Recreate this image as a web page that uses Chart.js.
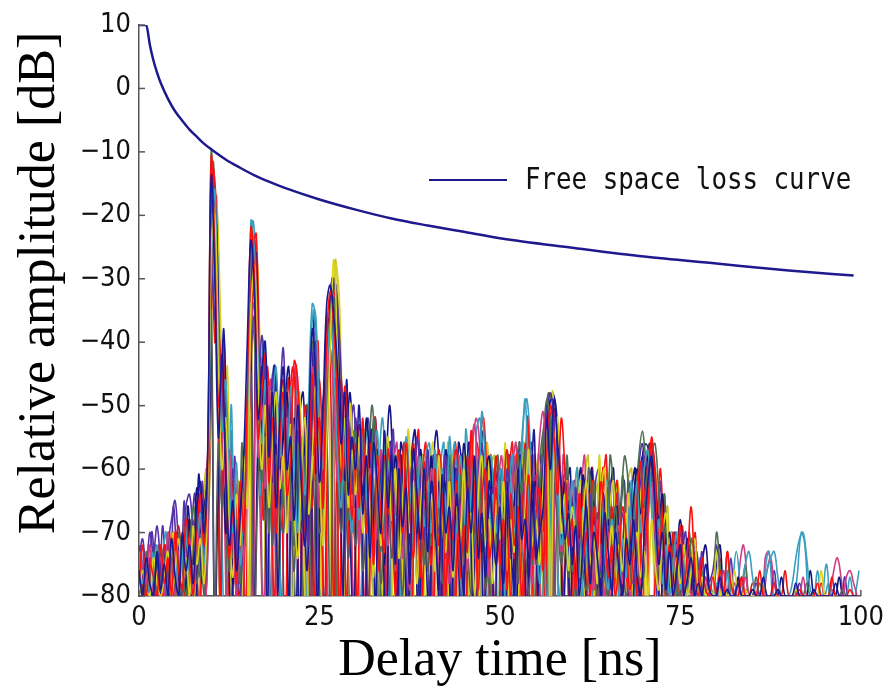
<!DOCTYPE html>
<html><head><meta charset="utf-8">
<script src="https://cdn.jsdelivr.net/npm/chart.js@4.4.1/dist/chart.umd.min.js"></script>
<style>html,body{margin:0;padding:0;background:#fff;}#wrap{position:relative;width:890px;height:695px;}</style>
</head><body><div id="wrap"><canvas id="c" width="890" height="695"></canvas></div>
<script>
// Delay axes (ns) for the measured power-delay profiles (two sampling grids)
const delay = [
0,0.5,1,1.5,2,2.5,3,3.5,4,4.5,5,5.5,6,6.5,7,7.5,8,8.5,9,9.5,
10,10.5,11,11.5,12,12.5,13,13.5,14,14.5,15,15.5,16,16.5,17,17.5,18,18.5,19,19.5,
20,20.5,21,21.5,22,22.5,23,23.5,24,24.5,25,25.5,26,26.5,27,27.5,28,28.5,29,29.5,
30,30.5,31,31.5,32,32.5,33,33.5,34,34.5,35,35.5,36,36.5,37,37.5,38,38.5,39,39.5,
40,40.5,41,41.5,42,42.5,43,43.5,44,44.5,45,45.5,46,46.5,47,47.5,48,48.5,49,49.5,
50,50.5,51,51.5,52,52.5,53,53.5,54,54.5,55,55.5,56,56.5,57,57.5,58,58.5,59,59.5,
60,60.5,61,61.5,62,62.5,63,63.5,64,64.5,65,65.5,66,66.5,67,67.5,68,68.5,69,69.5,
70,70.5,71,71.5,72,72.5,73,73.5,74,74.5,75,75.5,76,76.5,77,77.5,78,78.5,79,79.5,
80,80.5,81,81.5,82,82.5,83,83.5,84,84.5,85,85.5,86,86.5,87,87.5,88,88.5,89,89.5,
90,90.5,91,91.5,92,92.5,93,93.5,94,94.5,95,95.5,96,96.5,97,97.5,98,98.5,99,99.5];
const delayB = [
0.25,0.75,1.25,1.75,2.25,2.75,3.25,3.75,4.25,4.75,5.25,5.75,6.25,6.75,7.25,7.75,8.25,8.75,9.25,9.75,
10.25,10.75,11.25,11.75,12.25,12.75,13.25,13.75,14.25,14.75,15.25,15.75,16.25,16.75,17.25,17.75,18.25,18.75,19.25,19.75,
20.25,20.75,21.25,21.75,22.25,22.75,23.25,23.75,24.25,24.75,25.25,25.75,26.25,26.75,27.25,27.75,28.25,28.75,29.25,29.75,
30.25,30.75,31.25,31.75,32.25,32.75,33.25,33.75,34.25,34.75,35.25,35.75,36.25,36.75,37.25,37.75,38.25,38.75,39.25,39.75,
40.25,40.75,41.25,41.75,42.25,42.75,43.25,43.75,44.25,44.75,45.25,45.75,46.25,46.75,47.25,47.75,48.25,48.75,49.25,49.75,
50.25,50.75,51.25,51.75,52.25,52.75,53.25,53.75,54.25,54.75,55.25,55.75,56.25,56.75,57.25,57.75,58.25,58.75,59.25,59.75,
60.25,60.75,61.25,61.75,62.25,62.75,63.25,63.75,64.25,64.75,65.25,65.75,66.25,66.75,67.25,67.75,68.25,68.75,69.25,69.75,
70.25,70.75,71.25,71.75,72.25,72.75,73.25,73.75,74.25,74.75,75.25,75.75,76.25,76.75,77.25,77.75,78.25,78.75,79.25,79.75,
80.25,80.75,81.25,81.75,82.25,82.75,83.25,83.75,84.25,84.75,85.25,85.75,86.25,86.75,87.25,87.75,88.25,88.75,89.25,89.75,
90.25,90.75,91.25,91.75,92.25,92.75,93.25,93.75,94.25,94.75,95.25,95.75,96.25,96.75,97.25,97.75,98.25,98.75,99.25,99.75];

const mp1 = [
-76,-80,-74,-78,-80,-73,-79,-75,-80,-71,-77,-80,-70,-76,-72,-78,-66,-62,-70,-58,
-14,-30,-55,-42,-60,-72,-65,-76,-68,-58,-40,-24,-33,-52,-45,-40,-58,-48,-66,-52,
-44,-60,-55,-68,-50,-63,-72,-55,-38,-46,-62,-50,-34,-31,-36,-44,-56,-48,-64,-55,
-60,-50,-67,-58,-74,-56,-62,-70,-54,-66,-58,-75,-60,-69,-63,-78,-57,-64,-71,-60,
-73,-62,-68,-79,-61,-70,-66,-76,-64,-72,-80,-63,-70,-58,-74,-67,-77,-62,-69,-75,
-66,-78,-64,-72,-80,-60,-71,-68,-77,-62,-74,-70,-66,-52,-60,-49,-56,-63,-71,-67,
-75,-69,-80,-72,-66,-78,-70,-74,-80,-67,-73,-79,-70,-76,-80,-71,-75,-68,-77,-80,
-70,-62,-58,-66,-75,-70,-79,-73,-80,-76,-72,-80,-77,-74,-80,-78,-80,-75,-79,-80,
-80,-77,-80,-79,-80,-80,-78,-80,-80,-80,-79,-80,-80,-77,-80,-80,-80,-79,-80,-80,
-80,-80,-78,-80,-80,-80,-80,-79,-80,-80,-80,-80,-80,-78,-80,-80,-80,-80,-80,-80];
const mp2 = [
-78,-72,-80,-75,-77,-80,-72,-78,-74,-80,-70,-76,-79,-68,-74,-80,-70,-64,-72,-60,
-11,-26,-50,-45,-58,-74,-66,-78,-62,-70,-48,-22,-30,-55,-48,-42,-62,-52,-70,-56,
-48,-64,-58,-43,-46,-60,-70,-60,-45,-56,-52,-66,-40,-32,-38,-50,-62,-47,-56,-68,
-56,-66,-52,-70,-61,-75,-58,-67,-73,-57,-64,-80,-62,-70,-56,-66,-74,-63,-77,-59,
-68,-75,-60,-72,-64,-80,-67,-71,-62,-77,-69,-73,-54,-66,-79,-65,-60,-74,-70,-63,
-75,-68,-79,-64,-72,-66,-80,-70,-61,-74,-67,-63,-76,-58,-50,-55,-64,-52,-60,-72,
-68,-79,-64,-74,-70,-80,-66,-73,-62,-69,-77,-72,-80,-74,-66,-71,-79,-73,-65,-59,
-72,-66,-55,-62,-74,-68,-78,-72,-80,-75,-69,-78,-73,-66,-76,-80,-74,-79,-80,-77,
-80,-76,-80,-73,-78,-80,-80,-77,-80,-80,-79,-80,-76,-80,-80,-80,-78,-80,-80,-80,
-80,-80,-80,-79,-80,-80,-80,-80,-78,-80,-80,-80,-77,-80,-80,-80,-80,-79,-80,-80];
const mp3 = [
-80,-76,-79,-80,-74,-78,-80,-77,-73,-80,-76,-71,-78,-74,-80,-69,-75,-71,-78,-64,
-25,-20,-44,-60,-52,-68,-77,-64,-72,-58,-66,-35,-28,-46,-60,-50,-66,-55,-48,-63,
-58,-70,-53,-66,-74,-60,-52,-67,-58,-47,-60,-72,-56,-40,-27,-42,-60,-52,-66,-57,
-64,-55,-70,-60,-66,-77,-58,-72,-63,-55,-68,-60,-74,-65,-57,-70,-62,-78,-66,-60,
-70,-64,-76,-58,-68,-73,-62,-77,-66,-71,-60,-74,-67,-80,-64,-58,-72,-68,-78,-65,
-71,-62,-76,-68,-73,-60,-79,-66,-57,-72,-68,-75,-62,-54,-84,-58,-52,-70,-64,-76,
-66,-73,-80,-68,-62,-75,-70,-78,-64,-60,-74,-69,-80,-72,-76,-67,-79,-74,-70,-77,
-73,-80,-68,-75,-79,-71,-67,-76,-80,-74,-78,-72,-80,-76,-71,-80,-77,-80,-79,-80,
-73,-80,-78,-80,-80,-76,-80,-80,-79,-80,-80,-80,-80,-78,-80,-80,-80,-80,-80,-80,
-80,-80,-79,-80,-80,-80,-80,-80,-80,-76,-80,-80,-80,-80,-80,-80,-80,-80,-80,-80];
const mp4 = [
-73,-78,-74,-80,-76,-72,-79,-75,-80,-77,-73,-80,-74,-69,-77,-80,-72,-67,-75,-63,
-30,-16,-40,-54,-46,-62,-70,-59,-75,-66,-55,-21,-26,-42,-56,-46,-61,-50,-44,-58,
-50,-63,-47,-58,-70,-55,-64,-49,-34,-36,-52,-60,-45,-37,-44,-58,-66,-53,-60,-70,
-58,-68,-55,-63,-72,-60,-54,-66,-71,-59,-64,-76,-61,-68,-55,-62,-73,-66,-58,-69,
-62,-70,-57,-66,-60,-73,-55,-63,-70,-58,-66,-73,-64,-58,-66,-51,-60,-72,-64,-70,
-60,-68,-74,-62,-70,-65,-58,-49,-64,-72,-66,-78,-70,-82,-67,-56,-63,-72,-68,-75,
-62,-70,-77,-66,-73,-80,-69,-75,-64,-72,-79,-68,-74,-80,-71,-77,-66,-73,-62,-70,
-60,-57,-66,-74,-68,-78,-72,-80,-75,-70,-79,-74,-80,-76,-72,-80,-77,-80,-78,-80,
-78,-80,-80,-76,-80,-80,-80,-78,-75,-73,-77,-80,-80,-79,-76,-74,-73,-77,-80,-80,
-80,-78,-74,-71,-70,-74,-79,-80,-76,-80,-80,-78,-80,-80,-80,-80,-80,-77,-80,-80];
const mp5 = [
-80,-75,-78,-72,-80,-77,-74,-80,-70,-76,-80,-73,-78,-75,-71,-78,-74,-68,-76,-66,
-20,-24,-38,-52,-63,-57,-70,-80,-67,-74,-60,-38,-34,-58,-50,-63,-47,-59,-68,-54,
-62,-52,-68,-57,-49,-64,-72,-58,-44,-53,-66,-57,-46,-41,-50,-62,-55,-48,-61,-70,
-62,-72,-58,-66,-60,-74,-68,-57,-64,-72,-62,-67,-59,-74,-66,-79,-63,-58,-70,-65,
-72,-60,-66,-75,-63,-70,-78,-64,-71,-67,-62,-76,-57,-53,-62,-70,-65,-77,-68,-62,
-70,-76,-64,-69,-58,-67,-73,-62,-71,-78,-66,-55,-51,-60,-86,-56,-65,-73,-69,-62,
-72,-68,-64,-74,-66,-71,-79,-68,-75,-80,-70,-77,-73,-69,-78,-72,-80,-75,-71,-78,
-74,-68,-62,-70,-79,-73,-77,-80,-76,-72,-80,-78,-74,-80,-79,-76,-80,-77,-80,-80,
-80,-80,-76,-80,-80,-78,-80,-80,-77,-80,-80,-80,-80,-80,-76,-74,-78,-80,-80,-80,
-80,-80,-79,-80,-77,-80,-80,-80,-80,-80,-80,-80,-79,-80,-80,-80,-77,-76,-78,-80];
const mp6 = [
-77,-80,-73,-79,-76,-80,-72,-77,-80,-74,-78,-70,-75,-80,-73,-66,-71,-77,-69,-60,
-10,-28,-46,-56,-48,-66,-74,-68,-78,-61,-50,-34,-40,-49,-62,-55,-70,-57,-64,-51,
-66,-55,-62,-72,-56,-68,-60,-52,-40,-45,-58,-66,-49,-35,-33,-47,-64,-56,-68,-60,
-54,-63,-70,-58,-66,-52,-61,-73,-60,-57,-68,-74,-62,-69,-56,-64,-71,-60,-67,-75,
-64,-72,-59,-67,-62,-74,-58,-66,-70,-61,-75,-65,-58,-68,-73,-62,-70,-78,-66,-72,
-62,-69,-74,-66,-71,-58,-64,-57,-70,-75,-68,-63,-55,-49,-54,-84,-66,-74,-70,-63,
-76,-70,-65,-73,-68,-79,-62,-72,-77,-69,-63,-74,-66,-72,-61,-70,-78,-68,-62,-59,
-66,-60,-57,-56,-64,-73,-69,-78,-74,-80,-72,-77,-80,-71,-75,-80,-76,-80,-78,-80,
-70,-75,-80,-73,-80,-78,-80,-80,-75,-80,-80,-80,-78,-80,-80,-80,-80,-79,-80,-80,
-80,-80,-80,-80,-80,-78,-80,-80,-80,-80,-80,-80,-80,-80,-80,-79,-80,-80,-80,-80];
const mp7 = [
-74,-71,-76,-70,-73,-69,-75,-80,-72,-68,-65,-72,-78,-66,-64,-70,-75,-67,-73,-62,
-28,-36,-40,-48,-55,-70,-60,-73,-80,-68,-62,-42,-36,-50,-39,-47,-64,-45,-56,-49,
-41,-58,-49,-61,-54,-66,-58,-72,-48,-40,-55,-65,-52,-38,-30,-34,-45,-58,-52,-64,
-52,-60,-57,-68,-62,-54,-66,-58,-70,-61,-56,-67,-63,-72,-58,-64,-69,-55,-62,-71,
-57,-66,-61,-70,-64,-58,-69,-73,-60,-67,-62,-71,-65,-74,-60,-56,-66,-71,-63,-69,
-64,-72,-60,-67,-59,-70,-76,-64,-69,-61,-71,-65,-57,-51,-48,-52,-60,-69,-64,-71,
-70,-63,-74,-67,-72,-64,-78,-70,-66,-75,-69,-73,-80,-71,-67,-76,-72,-78,-66,-62,
-58,-60,-62,-65,-72,-69,-76,-72,-80,-77,-70,-75,-80,-76,-80,-79,-73,-80,-78,-76,
-72,-78,-80,-80,-74,-80,-80,-77,-80,-80,-80,-78,-80,-80,-80,-80,-76,-80,-80,-80,
-80,-80,-80,-78,-80,-80,-80,-80,-80,-80,-80,-80,-80,-80,-80,-80,-80,-80,-80,-80];
const mp8 = [
-80,-78,-80,-76,-80,-79,-77,-80,-75,-80,-78,-74,-80,-76,-79,-72,-78,-73,-80,-68,
-35,-84,-56,-66,-59,-76,-68,-80,-70,-64,-54,-45,-84,-62,-55,-68,-60,-72,-58,-66,
-70,-60,-66,-76,-58,-70,-64,-54,-84,-61,-70,-64,-55,-84,-49,-60,-70,-62,-74,-66,
-72,-64,-76,-68,-60,-71,-65,-78,-69,-62,-74,-66,-71,-80,-68,-73,-65,-77,-70,-64,
-76,-68,-72,-65,-78,-70,-63,-74,-69,-76,-66,-72,-80,-69,-74,-67,-79,-71,-65,-73,
-69,-77,-71,-74,-66,-78,-70,-73,-80,-68,-75,-70,-64,-84,-52,-62,-68,-75,-71,-77,
-74,-80,-71,-76,-79,-70,-74,-80,-72,-77,-80,-74,-78,-71,-75,-80,-76,-70,-73,-79,
-76,-64,-61,-68,-78,-74,-80,-76,-72,-79,-80,-77,-74,-80,-78,-80,-80,-77,-80,-80,
-80,-80,-80,-79,-80,-80,-80,-80,-80,-80,-80,-77,-80,-80,-80,-80,-80,-80,-80,-80,
-80,-80,-80,-80,-80,-80,-80,-80,-80,-80,-80,-80,-80,-80,-80,-80,-80,-80,-80,-80];
const mp9 = [
-78,-80,-75,-80,-79,-74,-80,-76,-73,-80,-77,-74,-71,-79,-68,-75,-63,-70,-66,-62,
-40,-86,-62,-50,-70,-62,-78,-70,-66,-60,-52,-42,-82,-54,-44,-60,-50,-62,-55,-60,
-55,-48,-60,-52,-62,-70,-56,-50,-58,-48,-54,-62,-37,-36,-33,-40,-52,-62,-54,-60,
-66,-58,-64,-52,-60,-69,-57,-63,-75,-61,-68,-58,-64,-72,-60,-68,-62,-70,-57,-65,
-67,-58,-71,-62,-68,-57,-64,-72,-60,-66,-56,-63,-70,-59,-67,-73,-62,-58,-65,-71,
-60,-67,-62,-73,-65,-59,-70,-63,-74,-66,-62,-69,-58,-50,-55,-53,-58,-67,-62,-66,
-69,-64,-72,-61,-67,-74,-65,-70,-63,-77,-68,-74,-66,-71,-76,-69,-73,-65,-60,-67,
-62,-58,-59,-63,-68,-64,-73,-70,-77,-73,-68,-74,-71,-79,-73,-80,-75,-72,-78,-80,
-75,-72,-80,-76,-80,-80,-77,-80,-79,-80,-80,-80,-80,-78,-80,-80,-80,-80,-77,-80,
-80,-80,-80,-80,-80,-80,-76,-80,-80,-80,-80,-80,-80,-80,-77,-80,-80,-80,-80,-80];
const mp10 = [
-72,-78,-80,-74,-79,-76,-80,-72,-77,-80,-73,-69,-76,-80,-70,-74,-65,-72,-68,-64,
-18,-40,-38,-47,-54,-68,-62,-76,-72,-64,-58,-44,-24,-40,-52,-44,-56,-48,-62,-50,
-46,-56,-50,-63,-54,-62,-50,-58,-66,-52,-46,-56,-36,-44,-82,-55,-46,-58,-65,-56,
-61,-53,-60,-69,-56,-64,-71,-60,-58,-67,-63,-72,-57,-66,-60,-70,-56,-67,-74,-62,
-66,-59,-70,-57,-62,-69,-75,-60,-57,-65,-72,-58,-66,-62,-72,-59,-68,-74,-66,-58,
-70,-63,-57,-66,-74,-61,-68,-56,-66,-72,-61,-68,-59,-52,-57,-51,-56,-62,-70,-65,
-72,-66,-76,-69,-63,-70,-79,-67,-73,-80,-71,-66,-75,-70,-78,-73,-67,-74,-80,-70,
-64,-58,-56,-60,-70,-66,-73,-79,-70,-76,-80,-73,-77,-80,-70,-78,-80,-80,-80,-80,
-80,-74,-80,-80,-80,-80,-78,-80,-80,-80,-78,-80,-80,-80,-80,-80,-80,-80,-80,-76,
-80,-80,-80,-80,-80,-80,-80,-80,-80,-78,-80,-80,-80,-80,-80,-80,-80,-80,-80,-80];
const mp11 = [
-82,-76,-85,-78,-80,-88,-75,-83,-79,-86,-74,-81,-88,-72,-80,-85,-70,-78,-66,-55,
-16,-22,-48,-38,-62,-84,-70,-88,-74,-66,-46,-28,-26,-60,-46,-84,-52,-44,-80,-58,
-48,-82,-56,-62,-86,-58,-76,-60,-42,-84,-54,-46,-38,-30,-32,-52,-80,-46,-70,-86,
-58,-64,-88,-60,-54,-82,-62,-70,-90,-56,-66,-84,-58,-72,-86,-60,-68,-88,-62,-74,
-84,-58,-70,-88,-62,-66,-85,-60,-74,-90,-64,-56,-82,-68,-60,-86,-70,-64,-88,-66,
-76,-86,-62,-70,-84,-58,-64,-86,-66,-54,-80,-68,-56,-50,-49,-55,-62,-84,-70,-82,
-64,-86,-70,-76,-88,-66,-72,-84,-64,-70,-88,-74,-66,-82,-68,-76,-90,-70,-62,-58,
-62,-56,-58,-72,-84,-68,-76,-88,-70,-82,-74,-86,-76,-80,-88,-78,-84,-80,-88,-82,
-78,-86,-80,-84,-88,-79,-86,-82,-88,-80,-85,-88,-84,-80,-88,-86,-82,-88,-85,-88,
-88,-84,-86,-88,-82,-88,-86,-84,-88,-86,-88,-82,-88,-86,-88,-84,-88,-86,-88,-88];
const mp12 = [
-85,-79,-74,-82,-88,-76,-80,-86,-73,-78,-84,-71,-77,-88,-72,-68,-82,-75,-64,-50,
-13,-20,-84,-40,-70,-86,-64,-80,-90,-62,-40,-26,-23,-48,-68,-44,-56,-82,-50,-64,
-86,-56,-44,-50,-84,-64,-56,-82,-84,-40,-66,-86,-42,-31,-36,-86,-48,-84,-58,-66,
-82,-56,-62,-88,-60,-52,-76,-64,-84,-58,-62,-88,-66,-56,-72,-86,-60,-54,-80,-64,
-70,-86,-58,-64,-82,-72,-60,-84,-66,-58,-88,-62,-70,-84,-56,-52,-64,-86,-60,-68,
-84,-62,-74,-88,-58,-66,-86,-52,-62,-84,-70,-60,-82,-56,-50,-52,-58,-80,-72,-88,
-70,-82,-64,-72,-86,-62,-76,-88,-60,-66,-84,-72,-64,-86,-70,-80,-66,-74,-88,-64,
-58,-84,-82,-70,-60,-76,-86,-72,-80,-88,-76,-84,-72,-80,-88,-76,-84,-86,-80,-88,
-84,-88,-79,-86,-82,-88,-84,-80,-88,-86,-82,-88,-80,-86,-88,-84,-88,-82,-88,-86,
-88,-86,-82,-88,-84,-88,-86,-88,-84,-88,-86,-88,-88,-82,-88,-86,-88,-84,-88,-88];
const mp13 = [
-78,-86,-72,-80,-84,-76,-88,-74,-82,-70,-86,-78,-73,-84,-68,-80,-74,-86,-66,-58,
-22,-18,-34,-56,-44,-82,-66,-74,-86,-58,-84,-30,-25,-40,-58,-86,-48,-54,-80,-46,
-64,-52,-84,-58,-48,-70,-86,-54,-62,-44,-80,-52,-48,-82,-28,-33,-58,-86,-50,-62,
-86,-60,-54,-72,-84,-62,-56,-80,-64,-58,-88,-60,-66,-82,-54,-62,-84,-70,-58,-86,
-62,-56,-84,-64,-72,-88,-58,-66,-82,-62,-58,-86,-68,-60,-84,-66,-56,-74,-88,-62,
-70,-56,-84,-66,-62,-88,-70,-58,-64,-86,-58,-66,-84,-84,-48,-56,-70,-84,-62,-74,
-88,-66,-62,-80,-70,-64,-86,-58,-72,-84,-66,-62,-80,-68,-86,-64,-74,-88,-70,-62,
-84,-62,-74,-86,-68,-78,-88,-70,-80,-74,-86,-78,-72,-84,-88,-76,-86,-82,-88,-84,
-80,-88,-84,-76,-86,-88,-82,-88,-86,-84,-88,-80,-88,-86,-88,-84,-88,-86,-82,-88,
-86,-88,-84,-88,-86,-88,-82,-88,-86,-88,-88,-84,-88,-86,-88,-88,-82,-88,-86,-88];
const mp14 = [
-74,-82,-88,-73,-79,-86,-75,-70,-84,-78,-72,-86,-76,-70,-82,-74,-88,-68,-72,-56,
-20,-17,-44,-84,-84,-50,-72,-86,-66,-56,-38,-21,-28,-64,-40,-52,-84,-48,-56,-86,
-52,-60,-86,-48,-64,-56,-84,-42,-35,-50,-84,-58,-44,-35,-38,-86,-52,-86,-60,-54,
-62,-88,-58,-54,-76,-84,-60,-52,-66,-86,-58,-64,-80,-56,-62,-88,-60,-70,-84,-58,
-56,-70,-86,-60,-56,-82,-62,-56,-72,-88,-54,-62,-84,-54,-52,-62,-84,-58,-70,-86,
-60,-82,-64,-58,-86,-62,-52,-49,-58,-84,-66,-72,-86,-86,-52,-60,-84,-66,-72,-88,
-66,-60,-84,-70,-64,-86,-68,-72,-88,-62,-70,-84,-64,-76,-88,-70,-62,-82,-72,-66,
-64,-60,-70,-84,-72,-80,-88,-74,-82,-86,-76,-84,-88,-80,-86,-88,-78,-84,-88,-82,
-86,-80,-88,-84,-78,-73,-78,-86,-88,-84,-80,-88,-86,-76,-73,-80,-88,-86,-88,-84,
-88,-82,-76,-70,-72,-82,-88,-84,-88,-80,-75,-82,-88,-86,-88,-84,-88,-86,-80,-76];
const mp15 = [
-86,-78,-82,-74,-88,-80,-76,-84,-72,-80,-88,-74,-70,-82,-76,-86,-70,-64,-80,-62,
-24,-30,-42,-62,-86,-54,-76,-64,-84,-70,-48,-84,-40,-66,-84,-56,-46,-62,-86,-52,
-58,-84,-48,-44,-66,-86,-56,-62,-50,-80,-58,-50,-86,-84,-46,-58,-84,-50,-60,-86,
-58,-66,-82,-56,-62,-86,-64,-58,-74,-88,-60,-56,-84,-66,-60,-80,-58,-64,-88,-62,
-66,-82,-60,-58,-86,-64,-72,-84,-58,-62,-86,-70,-56,-52,-58,-84,-62,-70,-88,-64,
-58,-72,-86,-60,-56,-84,-70,-64,-86,-58,-66,-84,-60,-54,-82,-62,-86,-58,-66,-84,
-62,-80,-64,-58,-84,-72,-66,-88,-64,-72,-84,-66,-74,-86,-68,-64,-82,-70,-62,-86,
-70,-86,-80,-86,-66,-74,-84,-78,-88,-72,-80,-86,-78,-84,-88,-82,-86,-88,-80,-86,
-88,-84,-80,-86,-88,-82,-75,-72,-78,-88,-84,-88,-86,-74,-73,-78,-88,-86,-84,-88,
-86,-88,-84,-88,-86,-82,-88,-84,-88,-86,-88,-80,-76,-74,-77,-82,-88,-86,-84,-88];
const mp16 = [
-80,-86,-76,-82,-72,-88,-78,-74,-86,-70,-80,-84,-68,-76,-88,-72,-66,-84,-70,-60,
-12,-25,-50,-44,-84,-58,-68,-88,-56,-72,-44,-32,-36,-56,-86,-50,-60,-52,-84,-54,
-60,-50,-84,-54,-60,-82,-50,-58,-44,-66,-86,-54,-40,-34,-86,-56,-86,-60,-84,-80,
-54,-60,-86,-64,-50,-58,-84,-62,-56,-80,-64,-60,-86,-56,-66,-84,-58,-62,-86,-66,
-60,-86,-64,-58,-80,-62,-60,-84,-70,-58,-64,-86,-60,-66,-84,-58,-56,-80,-62,-58,
-82,-64,-58,-86,-60,-56,-80,-54,-60,-86,-62,-56,-52,-48,-50,-54,-62,-84,-58,-70,
-86,-62,-70,-84,-60,-66,-86,-60,-64,-82,-58,-64,-86,-68,-58,-62,-84,-66,-58,-54,
-58,-56,-60,-66,-84,-64,-76,-88,-70,-82,-72,-80,-70,-84,-88,-74,-86,-80,-88,-84,
-82,-86,-88,-80,-84,-88,-86,-82,-88,-84,-88,-86,-80,-88,-84,-88,-86,-88,-82,-88,
-88,-84,-88,-86,-88,-80,-88,-86,-84,-88,-88,-86,-88,-84,-88,-86,-82,-88,-86,-88];
const mp17 = [
-72,-80,-86,-70,-76,-84,-69,-78,-88,-66,-74,-82,-65,-80,-70,-64,-84,-62,-74,-52,
-15,-28,-44,-40,-66,-84,-58,-80,-70,-86,-86,-30,-26,-44,-42,-80,-46,-66,-84,-48,
-52,-66,-84,-54,-50,-86,-62,-56,-38,-56,-86,-60,-46,-32,-31,-44,-66,-84,-56,-50,
-64,-84,-58,-52,-62,-86,-60,-66,-84,-62,-54,-82,-60,-58,-86,-64,-60,-84,-58,-66,
-86,-62,-58,-80,-66,-60,-86,-58,-64,-84,-60,-58,-82,-66,-62,-86,-60,-62,-84,-60,
-66,-86,-58,-62,-84,-60,-66,-84,-56,-62,-86,-60,-54,-48,-52,-82,-84,-62,-60,-86,
-62,-66,-84,-62,-70,-86,-62,-60,-80,-66,-62,-86,-64,-70,-84,-62,-66,-86,-60,-56,
-62,-58,-66,-80,-62,-74,-86,-72,-82,-88,-74,-70,-84,-76,-73,-80,-88,-82,-86,-88,
-84,-88,-80,-86,-88,-84,-86,-88,-82,-88,-86,-84,-88,-86,-88,-82,-88,-86,-88,-84,
-88,-86,-88,-84,-88,-86,-88,-82,-88,-86,-84,-88,-86,-88,-84,-77,-82,-88,-86,-88];
const mp18 = [
-88,-76,-80,-86,-74,-82,-88,-72,-80,-84,-70,-78,-86,-66,-74,-84,-61,-70,-80,-58,
-18,-24,-82,-50,-86,-62,-74,-84,-60,-68,-50,-82,-32,-52,-40,-54,-84,-44,-52,-86,
-50,-44,-62,-84,-52,-48,-66,-86,-36,-44,-64,-84,-42,-30,-34,-48,-84,-58,-48,-64,
-86,-54,-60,-84,-56,-52,-66,-86,-60,-50,-64,-86,-56,-60,-84,-58,-54,-80,-64,-60,
-84,-60,-54,-66,-86,-58,-62,-84,-56,-60,-86,-64,-58,-82,-60,-54,-66,-86,-60,-64,
-86,-60,-58,-84,-62,-56,-86,-60,-58,-82,-64,-58,-84,-52,-48,-50,-58,-86,-64,-60,
-84,-64,-60,-86,-66,-60,-84,-62,-68,-86,-64,-60,-84,-66,-62,-86,-64,-60,-84,-58,
-56,-58,-62,-84,-66,-72,-86,-70,-78,-88,-72,-82,-86,-74,-84,-88,-80,-86,-84,-88,
-86,-82,-88,-84,-88,-80,-86,-88,-84,-88,-86,-82,-88,-84,-88,-86,-88,-80,-88,-86,
-84,-88,-86,-82,-88,-84,-88,-86,-80,-88,-86,-88,-84,-88,-86,-82,-88,-84,-88,-88];
const mp19 = [
-80,-88,-74,-78,-86,-72,-84,-78,-70,-88,-76,-72,-84,-68,-78,-86,-64,-76,-68,-54,
-14,-22,-40,-50,-82,-64,-86,-72,-66,-84,-46,-24,-30,-60,-44,-50,-86,-46,-58,-84,
-56,-46,-84,-44,-58,-62,-86,-52,-86,-70,-58,-86,-40,-34,-84,-62,-84,-54,-62,-86,
-56,-62,-84,-58,-56,-86,-58,-62,-80,-56,-64,-86,-58,-64,-84,-60,-58,-86,-62,-56,
-80,-64,-60,-86,-58,-64,-84,-56,-62,-86,-60,-64,-80,-56,-60,-84,-64,-58,-86,-62,
-64,-84,-62,-56,-86,-60,-66,-84,-58,-64,-86,-62,-56,-50,-49,-84,-84,-62,-70,-86,
-64,-84,-66,-62,-86,-60,-68,-84,-64,-58,-86,-66,-62,-84,-70,-64,-86,-62,-60,-84,
-60,-56,-58,-70,-84,-64,-80,-86,-70,-84,-69,-80,-86,-76,-88,-82,-88,-84,-86,-88,
-88,-84,-86,-88,-82,-86,-88,-84,-88,-86,-80,-88,-84,-88,-86,-88,-82,-86,-88,-84,
-86,-88,-82,-88,-84,-86,-88,-84,-88,-86,-88,-82,-88,-84,-88,-86,-88,-84,-86,-88];
const mp20 = [
-84,-74,-88,-80,-72,-86,-76,-82,-88,-72,-80,-86,-70,-78,-84,-66,-80,-72,-60,-64,
-26,-21,-86,-46,-60,-86,-70,-62,-88,-64,-82,-32,-27,-58,-48,-86,-50,-58,-86,-56,
-62,-54,-86,-50,-62,-56,-84,-48,-58,-50,-86,-56,-44,-36,-27,-40,-60,-86,-54,-58,
-84,-58,-62,-86,-54,-58,-84,-60,-56,-86,-62,-58,-84,-60,-56,-86,-64,-60,-84,-58,
-62,-84,-58,-64,-86,-56,-60,-84,-62,-58,-86,-60,-64,-84,-58,-62,-86,-60,-58,-84,
-62,-58,-86,-64,-60,-84,-56,-62,-86,-58,-62,-84,-58,-52,-86,-56,-86,-60,-62,-84,
-66,-60,-86,-62,-58,-84,-64,-62,-86,-60,-66,-84,-62,-68,-86,-62,-60,-84,-64,-60,
-64,-60,-58,-64,-84,-70,-66,-86,-74,-80,-88,-76,-72,-86,-80,-88,-84,-80,-86,-88,
-86,-88,-82,-88,-84,-86,-88,-82,-88,-86,-88,-84,-86,-88,-80,-88,-86,-84,-88,-86,
-88,-86,-84,-88,-86,-88,-82,-88,-86,-88,-84,-88,-86,-88,-82,-88,-86,-88,-84,-88];

// Free space loss curve
const fslX = [0,1,1.5,2,2.5,3,4,5,6,7,8,9,10,12,14,16,18,20,25,30,35,40,45,50,60,70,80,90,99];
const fslY = [10,10,6.9,4.4,2.5,0.9,-1.6,-3.6,-5.1,-6.5,-7.6,-8.7,-9.6,-11.2,-12.5,-13.7,-14.7,-15.6,-17.5,-19.1,-20.5,-21.6,-22.6,-23.6,-25.1,-26.5,-27.6,-28.7,-29.5];

const xTicks = [0,25,50,75,100];
const yTicks = [-80,-70,-60,-50,-40,-30,-20,-10,0,10];
const legendLabel = 'Free space loss curve';
const xTitle = 'Delay time [ns]';
const yTitle = 'Relative amplitude [dB]';

const profiles = [mp1, mp2, mp3, mp4, mp5, mp6, mp7, mp8, mp9, mp10,
                  mp11, mp12, mp13, mp14, mp15, mp16, mp17, mp18, mp19, mp20];
const profileGrid = [delay, delay, delay, delay, delay, delay, delay, delay, delay, delay,
                     delayB, delayB, delayB, delayB, delayB, delayB, delayB, delayB, delayB, delayB];
const profileColors = ['#1a1a96','#ff1010','#d9d21c','#3b9fc0','#d23c82','#4f6f52','#5532a8','#5a5a5a','#12127a','#e81515',
                       '#1a1a96','#ff1010','#d9d21c','#3b9fc0','#d23c82','#4f6f52','#5532a8','#151585','#f01818','#c8c020'];
const fslColor = '#1e1a8e';

const datasets = [{
  label: legendLabel,
  data: fslX.map((x, i) => ({x, y: fslY[i]})),
  borderColor: fslColor, borderWidth: 2.5, pointRadius: 0,
  cubicInterpolationMode: 'monotone', fill: false
}];
profiles.forEach((p, k) => {
  const grid = profileGrid[k];
  datasets.push({
    label: 'profile ' + (k + 1),
    data: grid.map((x, i) => ({x, y: p[i]})),
    borderColor: profileColors[k], borderWidth: 1.6, pointRadius: 0,
    tension: 0.4, fill: false
  });
});

const deco = {
  id: 'deco',
  afterDraw(chart) {
    const {ctx, chartArea: a, scales} = chart;
    const x = scales.x, y = scales.y;
    ctx.save();
    ctx.strokeStyle = '#555'; ctx.lineWidth = 1.5;
    yTicks.forEach(v => { const p = y.getPixelForValue(v); ctx.beginPath(); ctx.moveTo(a.left, p); ctx.lineTo(a.left + 6, p); ctx.stroke(); });
    xTicks.forEach(v => { const p = x.getPixelForValue(v); ctx.beginPath(); ctx.moveTo(p, a.bottom); ctx.lineTo(p, a.bottom - 6); ctx.stroke(); });
    // legend inside the plot
    ctx.strokeStyle = fslColor; ctx.lineWidth = 2;
    ctx.beginPath(); ctx.moveTo(429, 180); ctx.lineTo(507, 180); ctx.stroke();
    ctx.save();
    ctx.translate(525, 189); ctx.scale(0.86, 1);
    ctx.fillStyle = '#111'; ctx.font = '30px "DejaVu Sans Mono", "Liberation Mono", monospace';
    ctx.textBaseline = 'alphabetic'; ctx.textAlign = 'left';
    ctx.fillText(legendLabel, 0, 0);
    ctx.restore();
    // y axis title
    ctx.translate(40, 283); ctx.rotate(-Math.PI / 2);
    ctx.fillStyle = '#000'; ctx.font = '52px "Liberation Serif", "Times New Roman", serif';
    ctx.textAlign = 'center'; ctx.textBaseline = 'middle';
    ctx.fillText(yTitle, 0, 0);
    ctx.restore();
  }
};

const tickFont = {family: '"DejaVu Sans Condensed", "Liberation Sans Narrow", "Liberation Sans", sans-serif', size: 27};

new Chart(document.getElementById('c'), {
  type: 'line',
  data: {datasets},
  options: {
    responsive: false, animation: false,
    layout: {padding: {left: 0, right: 27, top: 25, bottom: 0}},
    plugins: {legend: {display: false}, tooltip: {enabled: false}},
    scales: {
      x: {
        type: 'linear', min: 0, max: 100,
        afterFit(s) { s.height = 99; },
        ticks: {stepSize: 25, font: tickFont, color: '#111', padding: 6, maxRotation: 0},
        grid: {drawOnChartArea: false, drawTicks: false},
        border: {display: true, color: '#555', width: 1.5},
        title: {display: true, text: xTitle, color: '#000', font: {family: '"Liberation Serif", "Times New Roman", serif', size: 52}, padding: {top: 0, bottom: 2}}
      },
      y: {
        type: 'linear', min: -80, max: 10,
        afterFit(s) { s.width = 139; },
        ticks: {stepSize: 10, font: tickFont, color: '#111', padding: 8,
          callback: v => String(v).replace('-', '\u2212')},
        grid: {drawOnChartArea: false, drawTicks: false},
        border: {display: true, color: '#555', width: 1.5}
      }
    }
  },
  plugins: [deco]
});
</script>
</body></html>
